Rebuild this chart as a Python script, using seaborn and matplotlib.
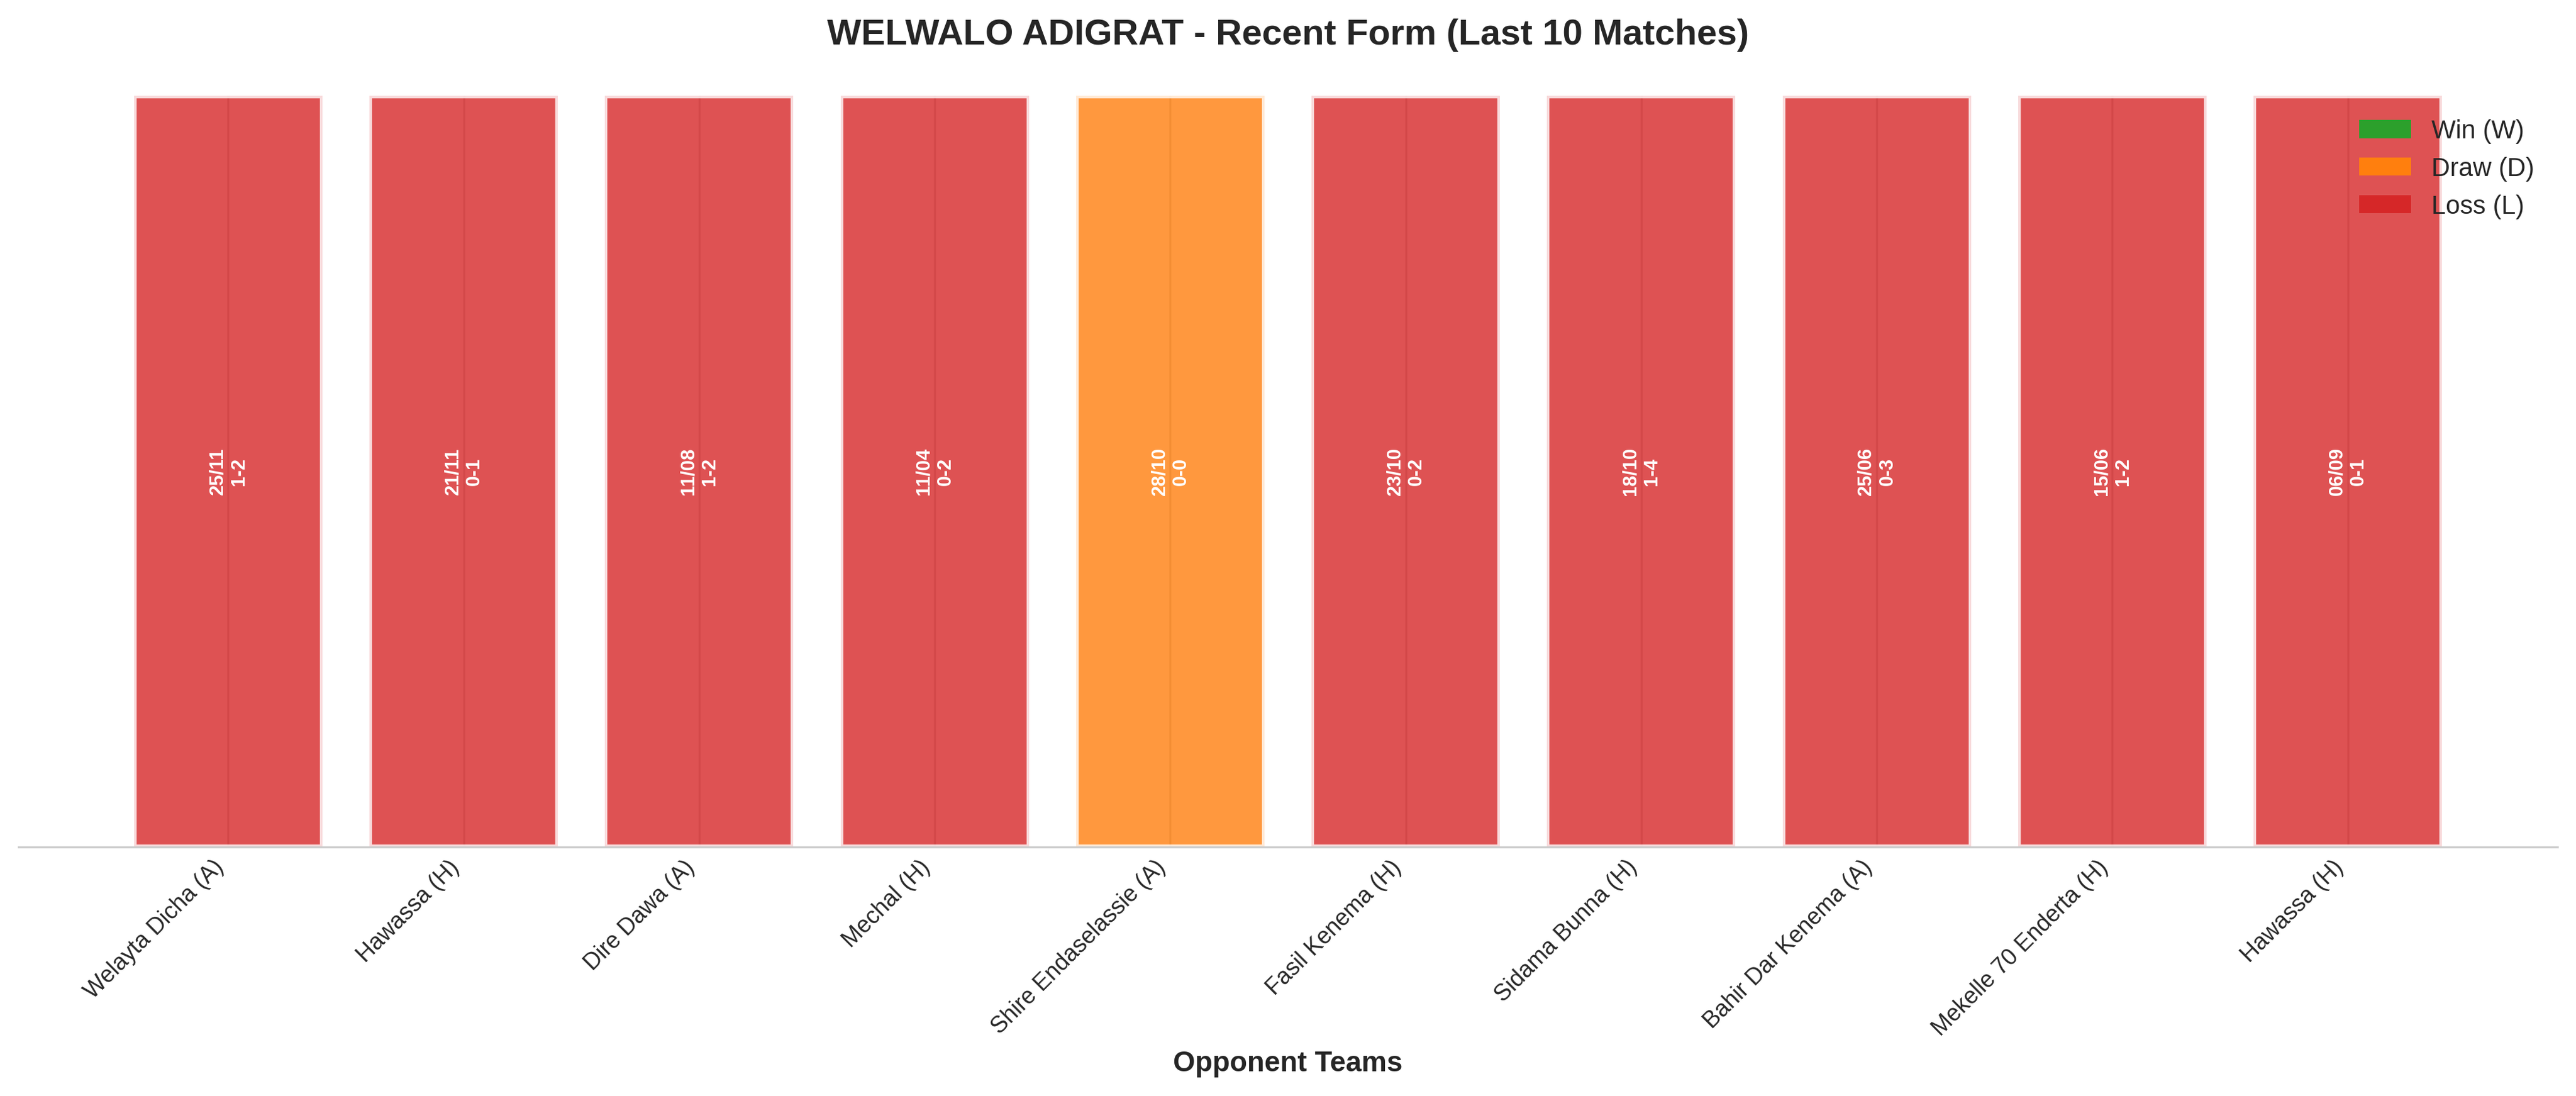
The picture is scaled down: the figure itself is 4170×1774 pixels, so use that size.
import numpy as np
import pandas as pd
import matplotlib
matplotlib.use('Agg')
import matplotlib.pyplot as plt
from matplotlib.patches import Patch
import seaborn as sns

# match data (most recent first)
opponents = ['Welayta Dicha (A)', 'Hawassa (H)', 'Dire Dawa (A)', 'Mechal (H)',
             'Shire Endaselassie (A)', 'Fasil Kenema (H)', 'Sidama Bunna (H)',
             'Bahir Dar Kenema (A)', 'Mekelle 70 Enderta (H)', 'Hawassa (H)']
dates = ['25/11', '21/11', '11/08', '11/04', '28/10', '23/10', '18/10', '25/06', '15/06', '06/09']
scores = ['1-2', '0-1', '1-2', '0-2', '0-0', '0-2', '1-4', '0-3', '1-2', '0-1']
results = ['L', 'L', 'L', 'L', 'D', 'L', 'L', 'L', 'L', 'L']

colors = {'W': '#2ca02c', 'D': '#ff7f0e', 'L': '#d62728'}
labels = {'W': 'Win (W)', 'D': 'Draw (D)', 'L': 'Loss (L)'}

df = pd.DataFrame({'match': range(len(opponents)), 'height': 1,
                   'result': results, 'date': dates, 'score': scores})

sns.set_style('whitegrid')
plt.rcParams['font.family'] = ['Liberation Sans', 'DejaVu Sans']

fig, ax = plt.subplots(figsize=(14, 6))
sns.barplot(data=df, x='match', y='height', hue='result', palette=colors,
            dodge=False, width=0.8, alpha=0.8, edgecolor='white', linewidth=2,
            saturation=1, legend=False, ax=ax)

# date + score inside each bar
for i, row in df.iterrows():
    ax.text(i, 0.5, f"{row['date']}\n{row['score']}", rotation=90,
            ha='center', va='center', color='white', fontsize=7.5, fontweight='bold')

ax.margins(x=0.05)
ax.autoscale(enable=True, axis='x')
ax.set_ylim(0, 1)
ax.set_yticks([])
ax.set_ylabel('')
ax.grid(True, axis='x')
ax.set_xticks(df['match'])
ax.set_xticklabels(opponents, rotation=45, ha='right', fontsize=9)
ax.tick_params(axis='x', length=0)
ax.set_xlabel('Opponent Teams', fontsize=11, fontweight='bold')
ax.set_title('WELWALO ADIGRAT - Recent Form (Last 10 Matches)',
             fontsize=14, fontweight='bold', pad=20)
sns.despine(ax=ax, left=True)

handles = [Patch(facecolor=colors[k], edgecolor='none', label=labels[k]) for k in ['W', 'D', 'L']]
ax.legend(handles=handles, loc='upper right', frameon=False, fontsize=10)

plt.tight_layout()
plt.savefig('out.png', dpi=300, bbox_inches='tight')
